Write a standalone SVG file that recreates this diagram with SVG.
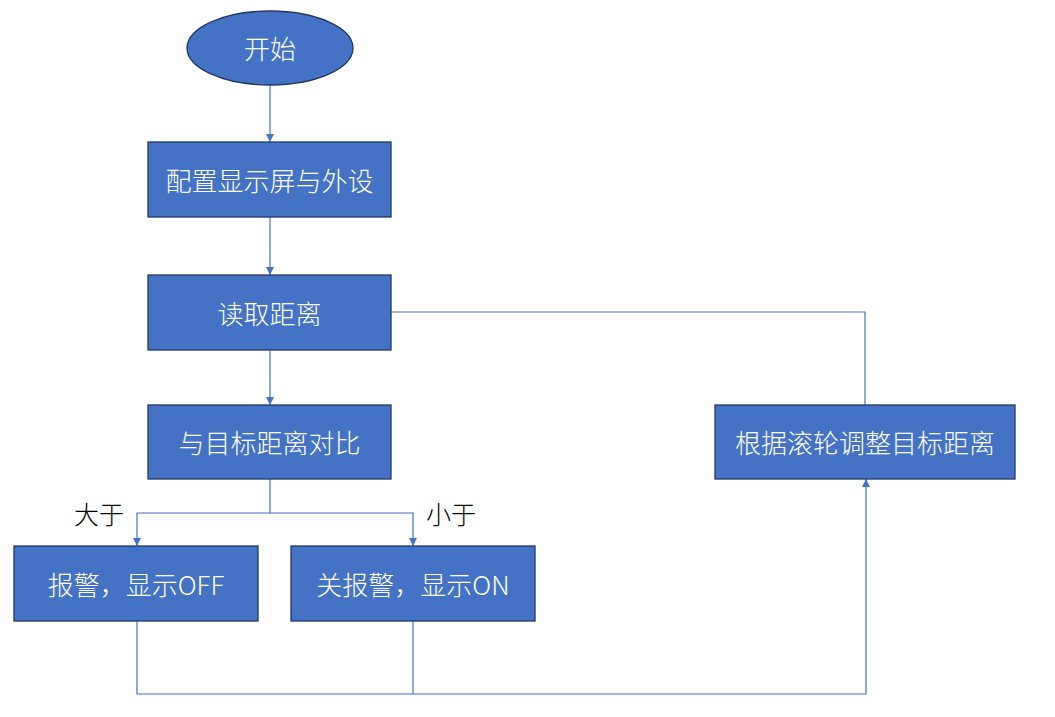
<svg xmlns="http://www.w3.org/2000/svg" width="1055" height="717" viewBox="0 0 1055 717">
<style>
.n{fill:#4472C4;stroke:#203864;stroke-width:1.3}
.t{fill:#fff;font-family:"Noto Sans CJK SC","Noto Sans",sans-serif;font-size:26px;font-weight:300;text-anchor:middle;dominant-baseline:central}
.l{fill:#000;font-family:"Noto Sans CJK SC","Noto Sans",sans-serif;font-size:25px;font-weight:300;text-anchor:middle;dominant-baseline:central}
.c{fill:none;stroke:#4472C4;stroke-width:1.2}
</style>
<defs>
<marker id="a" viewBox="0 0 10 10" refX="10" refY="5" markerWidth="8" markerHeight="8" markerUnits="userSpaceOnUse" orient="auto">
<path d="M0,0 L10,5 L0,10 z" fill="#4472C4"/>
</marker>
</defs>
<rect width="1055" height="717" fill="#fff"/>
<g id="connectors">
<path class="c" d="M270,85 V142" marker-end="url(#a)"/>
<path class="c" d="M270,217 V275" marker-end="url(#a)"/>
<path class="c" d="M270,350 V405" marker-end="url(#a)"/>
<path class="c" d="M270,479 V513 H137 V546" marker-end="url(#a)"/>
<path class="c" d="M270,513 H413 V546" marker-end="url(#a)"/>
<path class="c" d="M137,621 V694 H866 V479" marker-end="url(#a)"/>
<path class="c" d="M413,621 V694"/>
<path class="c" d="M391,312 H865 V405"/>
</g>
<g id="start"><ellipse class="n" cx="270" cy="48" rx="83" ry="37"/><text class="t" x="270" y="47">开始</text></g>
<g id="config"><rect class="n" x="148" y="142" width="243" height="75"/><text class="t" x="269.5" y="179">配置显示屏与外设</text></g>
<g id="read"><rect class="n" x="148" y="275" width="243" height="75"/><text class="t" x="269.5" y="312">读取距离</text></g>
<g id="compare"><rect class="n" x="148" y="405" width="243" height="74"/><text class="t" x="269.5" y="441">与目标距离对比</text></g>
<g id="off"><rect class="n" x="14" y="546" width="244" height="75"/><text class="t" x="136" y="583">报警，显示OFF</text></g>
<g id="on"><rect class="n" x="291" y="546" width="244" height="75"/><text class="t" x="413" y="583">关报警，显示ON</text></g>
<g id="adjust"><rect class="n" x="715" y="405" width="300" height="74"/><text class="t" x="865" y="441">根据滚轮调整目标距离</text></g>
<g id="labels"><text class="l" x="99" y="513">大于</text><text class="l" x="451" y="513">小于</text></g>
</svg>
